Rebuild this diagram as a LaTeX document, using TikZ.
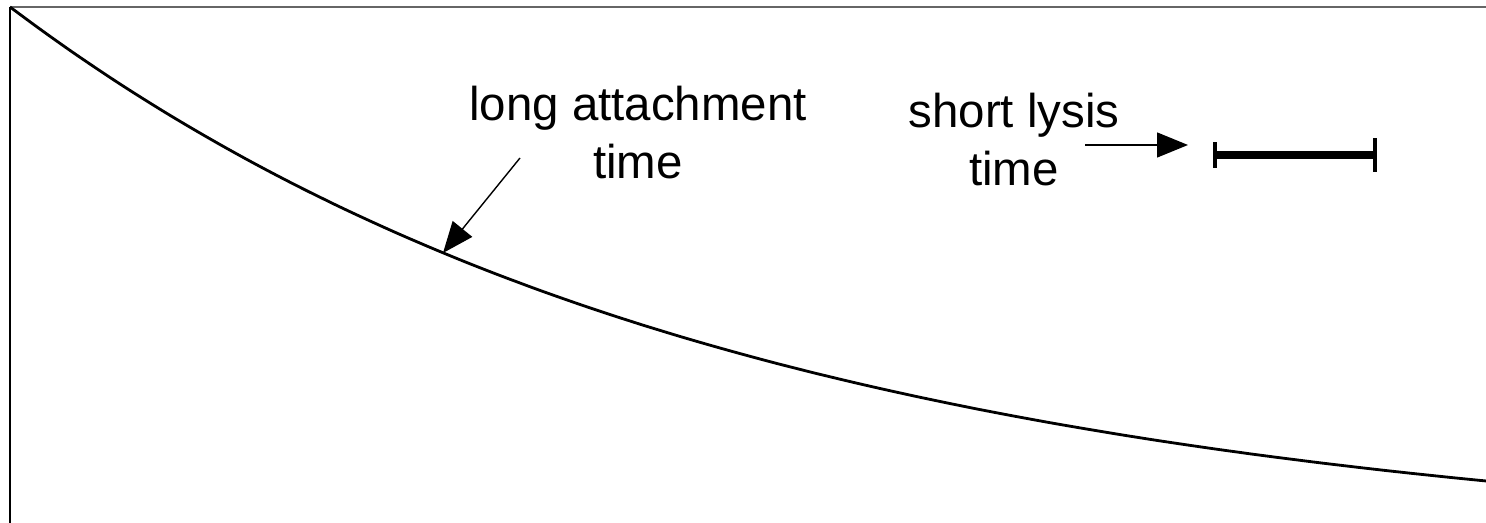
\documentclass[tikz,border=0pt]{standalone}
\usepackage{fontspec}
\setmainfont{Liberation Sans}
\usetikzlibrary{arrows.meta}
\tikzset{
  label text/.style={align=center, inner sep=0pt, font=\fontsize{27}{33}\selectfont},
  pointer/.style={line width=0.8pt, -{Triangle[length=0.62cm, width=0.5cm]}},
  frame line/.style={line width=1.2pt},
}
\begin{document}
\begin{tikzpicture}
				\useasboundingbox (0,0) rectangle (29.72,10.46);
				% axes
				\draw[frame line] (0.2,0) -- (0.2,10.32);
				\draw[line width=0.6pt, black!60] (0.2,10.32) -- (29.72,10.32);
				% decay curve
				\draw[line width=1.6pt, domain=0.2:29.72, samples=120, smooth]
					plot (\x, {-0.56+10.88*exp(-(\x-0.2)/14.4)});
				\coordinate (hit) at (8.86,5.40);
				\coordinate (from1) at (10.40,7.30);
				\coordinate (from2) at (21.70,7.56);
				\coordinate (to2) at (23.76,7.56);
				\coordinate (barl) at (24.30,7.36);
				\coordinate (barr) at (27.50,7.36);
				\node[label text] (attach) at (12.76,7.80) {long attachment\\time};
				\node[label text] (lysis) at (20.28,7.66) {short lysis\\time};
				\draw[pointer] (from1) -- (hit);
				\draw[pointer] (from2) -- (to2);
				% lysis time bar
				\draw[line width=4.5pt] (barl) -- (barr);
				\draw[line width=2.4pt] ([yshift=-0.26cm]barl) -- ([yshift=0.26cm]barl);
				\draw[line width=2.4pt] ([yshift=-0.34cm]barr) -- ([yshift=0.34cm]barr);
\end{tikzpicture}
\end{document}
